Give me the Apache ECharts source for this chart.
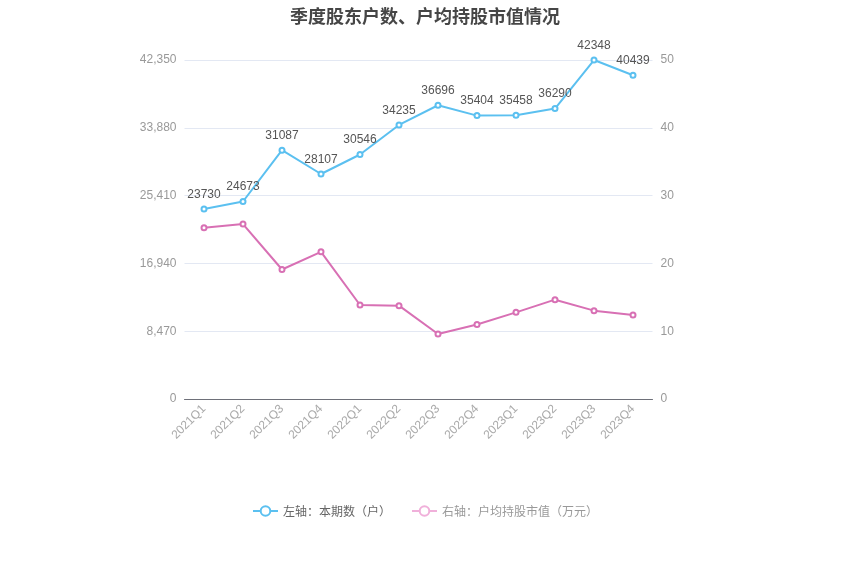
<!DOCTYPE html>
<html><head><meta charset="utf-8">
<script src="https://cdn.jsdelivr.net/npm/echarts@6/dist/echarts.min.js"></script>
<style>html,body{margin:0;padding:0;background:#fff}#c{width:850px;height:574px}</style>
</head><body><div id="c"></div>
<script>
const categories = ['2021Q1','2021Q2','2021Q3','2021Q4','2022Q1','2022Q2','2022Q3','2022Q4','2023Q1','2023Q2','2023Q3','2023Q4'];
const holders = [23730,24673,31087,28107,30546,34235,36696,35404,35458,36290,42348,40439];
const avgValue = [25.27,25.8,19.1,21.7,13.86,13.77,9.59,11.0,12.78,14.65,13.03,12.39];
const leftTicks = [0,8470,16940,25410,33880,42350];
const rightTicks = [0,10,20,30,40,50];

const chart = echarts.init(document.getElementById('c'));
chart.setOption({
  backgroundColor:'#fff',
  title:{text:'季度股东户数、户均持股市值情况',left:'center',top:2,textStyle:{fontSize:18,fontWeight:'bold',color:'#464646',fontFamily:'Noto Sans CJK SC'}},
  grid:{left:184.5,right:197.5,top:60,bottom:175,containLabel:false},
  legend:{top:500,left:'center',itemWidth:25,itemHeight:12,itemGap:20,textStyle:{color:'#666',fontSize:12,fontFamily:'Noto Sans CJK SC'},
    data:[{name:'左轴：本期数（户）'},
          {name:'右轴：户均持股市值（万元）',itemStyle:{color:'#f0b0da'},lineStyle:{color:'#f0b0da'},textStyle:{color:'#999'}}]},
  xAxis:{type:'category',data:categories,boundaryGap:true,
    axisLine:{lineStyle:{color:'#6e7079'}},axisTick:{alignWithLabel:true,lineStyle:{color:'#6e7079'}},
    axisLabel:{rotate:45,color:'#aaa',fontSize:12,interval:0,margin:8}},
  yAxis:[
    {type:'value',min:0,max:leftTicks[leftTicks.length-1],interval:leftTicks[1]-leftTicks[0],
     axisLabel:{color:'#999',fontSize:12,formatter:v=>v.toLocaleString('en-US')},
     splitLine:{lineStyle:{color:'#e3e8f3'}},axisLine:{show:false},axisTick:{show:false}},
    {type:'value',min:0,max:rightTicks[rightTicks.length-1],interval:rightTicks[1]-rightTicks[0],
     axisLabel:{color:'#999',fontSize:12},splitLine:{show:false},axisLine:{show:false},axisTick:{show:false}}
  ],
  series:[
    {name:'左轴：本期数（户）',type:'line',yAxisIndex:0,data:holders,symbol:'emptyCircle',symbolSize:5,
     itemStyle:{color:'#5bc0f0'},lineStyle:{width:2,color:'#5bc0f0'},
     label:{show:true,position:'top',color:'#555',fontSize:12}},
    {name:'右轴：户均持股市值（万元）',type:'line',yAxisIndex:1,data:avgValue,symbol:'emptyCircle',symbolSize:5,
     itemStyle:{color:'#d870b4'},lineStyle:{width:2,color:'#d870b4'}}
  ]
});
</script></body></html>
